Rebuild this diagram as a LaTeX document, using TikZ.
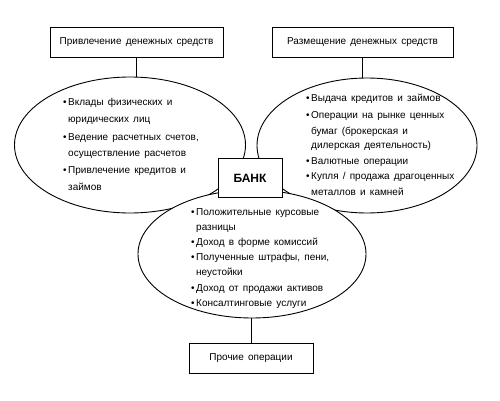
\documentclass[tikz,border=0pt]{standalone}
\usepackage{fontspec}
\setmainfont{Liberation Sans}[WordSpace=1.5]
\usetikzlibrary{shapes.geometric}
\tikzset{
  hdr/.style={draw, line width=0.9pt, fill=white, inner sep=0pt, font=\fontsize{10}{12}\selectfont},
  oval/.style={draw, ellipse, line width=0.9pt, fill=white, inner sep=0pt},
  txt/.style={anchor=base west, inner sep=0pt, font=\fontsize{10}{12}\selectfont},
  link/.style={line width=0.9pt},
}
\newcommand\bul{\llap{\textbullet\,}}
\begin{document}
\begin{tikzpicture}[x=1pt,y=-1pt]
\useasboundingbox (0,0) rectangle (500,401);
% ellipses
\node[oval, minimum width=231pt, minimum height=136pt] (L) at (130,145) {};
\node[oval, minimum width=220pt, minimum height=135pt] (R) at (367,145.5) {};
\node[oval, minimum width=228pt, minimum height=128pt] (B) at (252,254) {};
% left text
\node[txt] (l1) at (68,106) {\bul Вклады физических и};
\node[txt] (l2) at (68,122.5) {юридических лиц};
\node[txt] (l3) at (68,140) {\bul Ведение расчетных счетов,};
\node[txt] (l4) at (68,156) {осуществление расчетов};
\node[txt] (l5) at (68,173) {\bul Привлечение кредитов и};
\node[txt] (l6) at (68,190) {займов};
% right text
\node[txt] (r1) at (311,102) {\bul Выдача кредитов и займов};
\node[txt] (r2) at (311,118) {\bul Операции на рынке ценных};
\node[txt] (r3) at (311,134) {бумаг (брокерская и};
\node[txt] (r4) at (311,148.5) {дилерская деятельность)};
\node[txt] (r5) at (311,164) {\bul Валютные операции};
\node[txt] (r6) at (311,179.5) {\bul Купля / продажа драгоценных};
\node[txt] (r7) at (311,195) {металлов и камней};
% bottom text
\node[txt] (b1) at (196,215) {\bul Положительные курсовые};
\node[txt] (b2) at (196,230) {разницы};
\node[txt] (b3) at (196,245.5) {\bul Доход в форме комиссий};
\node[txt] (b4) at (196,260.5) {\bul Полученные штрафы, пени,};
\node[txt] (b5) at (196,275.5) {неустойки};
\node[txt] (b6) at (196,291) {\bul Доход от продажи активов};
\node[txt] (b7) at (196,306) {\bul Консалтинговые услуги};
% boxes
\node[hdr, minimum width=173pt, minimum height=30pt] (h1) at (136.5,42) {Привлечение денежных средств};
\node[hdr, minimum width=181pt, minimum height=30pt] (h2) at (362.5,42) {Размещение денежных средств};
\node[hdr, minimum width=124pt, minimum height=30pt] (h3) at (251,358) {Прочие операции};
\node[hdr, minimum width=64pt, minimum height=39pt, font=\fontsize{12}{14}\selectfont\bfseries] (bank) at (250,178) {БАНК};
% connectors
\draw[link] (h1.south) -- (h1.south |- L.north);
\draw[link] (h2.south) -- (h2.south |- R.north);
\draw[link] (h3.north) -- (h3.north |- B.south);
\end{tikzpicture}
\end{document}
